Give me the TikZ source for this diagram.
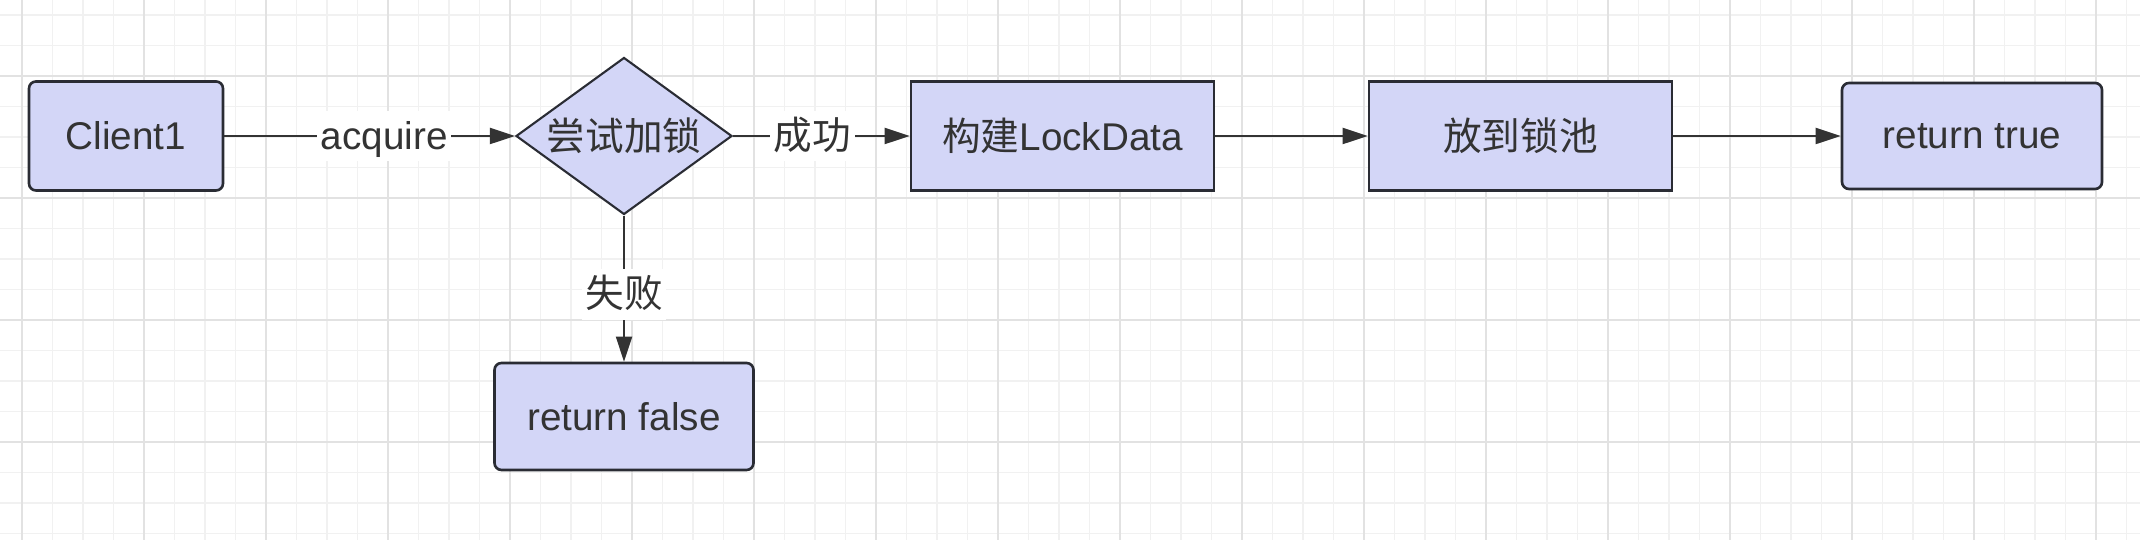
\documentclass[tikz,border=0pt]{standalone}
\usepackage{fontspec}
\setmainfont{Liberation Sans}
\newfontfamily\cjk{Noto Sans CJK SC}
\usetikzlibrary{shapes.geometric, arrows.meta}

\definecolor{boxfill}{RGB}{211,214,247}
\definecolor{boxline}{RGB}{42,44,52}
\definecolor{inkgray}{RGB}{51,51,51}
\definecolor{minorgrid}{RGB}{241,241,241}
\definecolor{majorgrid}{RGB}{226,226,226}

\tikzset{
  box/.style={rectangle, draw=boxline, fill=boxfill, line width=0.75pt,
    text=inkgray, minimum width=19.4mm, minimum height=10.9mm, inner sep=0pt},
  roundbox/.style={box, rounded corners=0.7mm},
  decision/.style={diamond, draw=boxline, fill=boxfill, line width=0.6pt,
    text=inkgray, aspect=1.376, inner sep=0pt,
    minimum width=21.6mm, minimum height=15.7mm},
  link/.style={->, draw=inkgray, line width=0.55pt},
  edgelabel/.style={fill=white, text=inkgray, inner xsep=1pt, inner ysep=1pt,
    text height=1.0em, text depth=0.23em},
}

\begin{document}
\begin{tikzpicture}[x=0.1mm, y=-0.1mm, font=\fontsize{11}{13}\selectfont,
    >={Triangle[length=2.5mm, width=1.6mm]}]
  \fill[white] (0,0) rectangle (2140,540);
  \useasboundingbox (0,0) rectangle (2140,540);
  % background grid: minor cells, then every fourth line darker
  \foreach \k in {1,...,70} {
    \draw[minorgrid, line width=0.17mm] ({-8.5+30.5*\k},0) -- ++(0,540);
  }
  \foreach \k in {0,...,17} {
    \draw[minorgrid, line width=0.17mm] (0,{15+30.5*\k}) -- ++(2140,0);
  }
  \foreach \k in {0,...,17} {
    \draw[majorgrid, line width=0.2mm] ({22+122*\k},0) -- ++(0,540);
  }
  \foreach \k in {0,...,3} {
    \draw[majorgrid, line width=0.2mm] (0,{76+122*\k}) -- ++(2140,0);
  }
  % flow nodes
  \node[roundbox] (client) at (126,136) {Client1};
  \node[decision] (try) at (624,136) {\cjk 尝试加锁};
  \node[box, minimum width=30.3mm] (build) at (1062.5,136) {{\cjk 构建}LockData};
  \node[box, minimum width=30.3mm] (pool) at (1520.5,136) {\cjk 放到锁池};
  \node[roundbox, minimum width=26mm, minimum height=10.6mm] (ok) at (1972,136) {return true};
  \node[roundbox, minimum width=25.9mm, minimum height=10.7mm] (fail) at (624,416.5) {return false};
  % connectors
  \draw[link] (client) -- node[edgelabel, pos=0.55] {acquire} (try);
  \draw[link] (try) -- node[edgelabel, pos=0.45] {\cjk 成功} (build);
  \draw[link] (build) -- (pool);
  \draw[link] (pool) -- (ok);
  \draw[link] (try) -- node[edgelabel, pos=0.54] {\cjk 失败} (fail);
\end{tikzpicture}
\end{document}
